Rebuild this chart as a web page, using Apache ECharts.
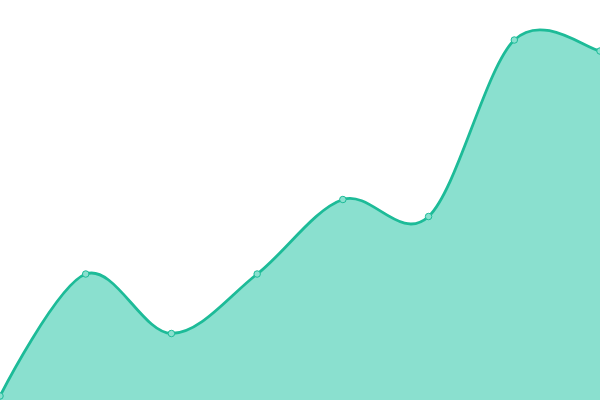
<!DOCTYPE html>
<html><head><meta charset="utf-8">
<script src="https://cdn.jsdelivr.net/npm/echarts@6/dist/echarts.min.js"></script>
<style>html,body{margin:0;padding:0;background:#fff}#c{width:600px;height:400px}</style>
</head><body><div id="c"></div>
<script>
const categories = ['A','B','C','D','E','F','G','H'];
const values = [4, 126, 66.5, 126, 200.5, 183.5, 360, 349];
const yMin = 0, yMax = 400;
const LINE = '#1dbb98', FILL = '#8ae0cf';
const K = 1 / 6; // Catmull-Rom style tangent factor

// Unconstrained smooth bezier path through the projected points
function smoothPath(pts) {
  const n = pts.length;
  let d = 'M' + pts[0][0] + ' ' + pts[0][1];
  for (let i = 0; i < n - 1; i++) {
    const p = pts[i], q = pts[i + 1];
    const prev = pts[i - 1], next = pts[i + 2];
    const c1 = prev ? [p[0] + (q[0] - prev[0]) * K, p[1] + (q[1] - prev[1]) * K] : p.slice();
    const c2 = next ? [q[0] - (next[0] - p[0]) * K, q[1] - (next[1] - p[1]) * K]
                    : [q[0] - (q[0] - p[0]) * K, q[1] - (q[1] - p[1]) * K];
    d += ' C' + c1[0] + ' ' + c1[1] + ' ' + c2[0] + ' ' + c2[1] + ' ' + q[0] + ' ' + q[1];
  }
  return d;
}

const chart = echarts.init(document.getElementById('c'));
chart.setOption({
  animation: false,
  grid: {left: 0, right: 0, top: 0, bottom: 0},
  xAxis: {type: 'category', data: categories, boundaryGap: false, show: false},
  yAxis: {type: 'value', min: yMin, max: yMax, show: false},
  series: [{
    type: 'custom',
    clip: false,
    z: 1,
    data: values.map((v, i) => [i, v]),
    renderItem: function (params, api) {
      if (params.dataIndex !== 0) return null;
      const pts = values.map((v, i) => api.coord([i, v]));
      const base = api.coord([0, yMin])[1];
      const line = smoothPath(pts);
      const last = pts[pts.length - 1], first = pts[0];
      const area = line + ' L' + last[0] + ' ' + base + ' L' + first[0] + ' ' + base + ' Z';
      return {
        type: 'group',
        children: [
          {type: 'path', shape: {pathData: area}, style: {fill: FILL, stroke: null}},
          {type: 'path', shape: {pathData: line}, style: {fill: null, stroke: LINE, lineWidth: 2.8}}
        ]
      };
    }
  }, {
    type: 'line',
    z: 3,
    data: values,
    symbol: 'circle',
    symbolSize: 6.5,
    lineStyle: {width: 0, opacity: 0},
    itemStyle: {color: FILL, borderColor: LINE, borderWidth: 1}
  }]
});
</script></body></html>
